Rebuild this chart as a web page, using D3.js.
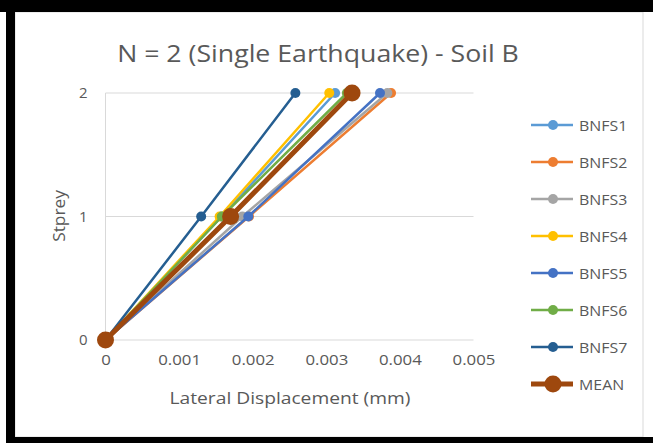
<!DOCTYPE html>
<html>
<head>
<meta charset="utf-8">
<script src="https://cdn.jsdelivr.net/npm/d3@7"></script>
<style>
  html, body { margin: 0; padding: 0; background: #fff; }
  svg { display: block; }
  text { font-family: "Open Sans", Lato, sans-serif; fill: #595959; }
</style>
</head>
<body>
<svg id="chart" width="653" height="443"></svg>
<script>
// Storey levels and lateral displacement (mm) for each record
const storeys = [0, 1, 2];
const seriesNames = ["BNFS1", "BNFS2", "BNFS3", "BNFS4", "BNFS5", "BNFS6", "BNFS7", "MEAN"];
const BNFS1 = [0, 0.00158, 0.00312];
const BNFS2 = [0, 0.00195, 0.00388];
const BNFS3 = [0, 0.00186, 0.00383];
const BNFS4 = [0, 0.00155, 0.00304];
const BNFS5 = [0, 0.00194, 0.00373];
const BNFS6 = [0, 0.00158, 0.00328];
const BNFS7 = [0, 0.00130, 0.00258];
const MEAN  = [0, 0.00170, 0.00335];
const xTicks = [0, 0.001, 0.002, 0.003, 0.004, 0.005];
const yTicks = [0, 1, 2];
const colors = ["#5B9BD5", "#ED7D31", "#A5A5A5", "#FFC000", "#4472C4", "#70AD47", "#255E91", "#9E480E"];

const values = [BNFS1, BNFS2, BNFS3, BNFS4, BNFS5, BNFS6, BNFS7, MEAN];
const series = seriesNames.map((name, i) => ({
  name, color: colors[i], isMean: name === "MEAN",
  points: storeys.map((s, j) => ({ x: values[i][j], y: s }))
}));

const svg = d3.select("#chart");
const FONT = "'Open Sans', Lato, sans-serif";

// widen glyphs horizontally by a factor (the chart's labels are set in a broad face)
function widen(sel, factor) {
  sel.each(function () {
    const w = this.getComputedTextLength();
    d3.select(this).attr("textLength", w * factor).attr("lengthAdjust", "spacingAndGlyphs");
  });
}

// frame
svg.append("rect").attr("x", 15).attr("y", 12).attr("width", 628).attr("height", 425)
  .attr("fill", "#fff").attr("stroke", "#d9d9d9").attr("stroke-width", 1);
svg.append("rect").attr("x", 0).attr("y", 0).attr("width", 653).attr("height", 12).attr("fill", "#000");
svg.append("rect").attr("x", 6).attr("y", 0).attr("width", 9).attr("height", 443).attr("fill", "#000");
svg.append("rect").attr("x", 6).attr("y", 437).attr("width", 647).attr("height", 6).attr("fill", "#000");

const x = d3.scaleLinear().domain([0, 0.005]).range([105.5, 473.5]);
const y = d3.scaleLinear().domain([0, 2]).range([340, 93]);

// horizontal gridlines
svg.append("g").selectAll("line").data(yTicks).join("line")
  .attr("x1", x(0)).attr("x2", x(0.005))
  .attr("y1", d => y(d)).attr("y2", d => y(d))
  .attr("stroke", "#d9d9d9").attr("stroke-width", 1);
// vertical axis line
svg.append("line").attr("x1", x(0)).attr("x2", x(0)).attr("y1", y(2)).attr("y2", y(0))
  .attr("stroke", "#d9d9d9").attr("stroke-width", 1);

// axes (labels only)
const xAxis = svg.append("g").attr("transform", `translate(0,${y(0)})`)
  .call(d3.axisBottom(x).tickValues(xTicks).tickSize(0).tickPadding(14)
    .tickFormat(d => d === 0 ? "0" : d3.format(".3f")(d)));
xAxis.select(".domain").remove();
xAxis.selectAll("text").attr("font-size", 15).attr("fill", "#595959").style("font-family", FONT);
widen(xAxis.selectAll("text"), 1.12);

const yAxis = svg.append("g").attr("transform", `translate(${x(0)},0)`)
  .call(d3.axisLeft(y).tickValues(yTicks).tickSize(0).tickPadding(18).tickFormat(d3.format("d")));
yAxis.select(".domain").remove();
yAxis.selectAll("text").attr("font-size", 15).attr("fill", "#595959").style("font-family", FONT);

// titles
const title = svg.append("text").attr("x", 318).attr("y", 62).attr("text-anchor", "middle")
  .attr("font-size", 23).text("N = 2 (Single Earthquake) - Soil B");
widen(title, 1.16);
const xTitle = svg.append("text").attr("x", 290).attr("y", 404).attr("text-anchor", "middle")
  .attr("font-size", 16).text("Lateral Displacement (mm)");
widen(xTitle, 1.2);
const yTitle = svg.append("text").attr("transform", "translate(65,216) rotate(-90)").attr("text-anchor", "middle")
  .attr("font-size", 16).text("Stprey");
widen(yTitle, 1.08);

// series lines and markers
const line = d3.line().x(d => x(d.x)).y(d => y(d.y));
const plot = svg.append("g");
series.forEach(s => {
  const g = plot.append("g");
  g.append("path").datum(s.points).attr("d", line).attr("fill", "none")
    .attr("stroke", s.color).attr("stroke-width", s.isMean ? 5 : 2.5)
    .attr("stroke-linejoin", "round");
  g.selectAll("circle").data(s.points).join("circle")
    .attr("cx", d => x(d.x)).attr("cy", d => y(d.y))
    .attr("r", s.isMean ? 8.5 : 5).attr("fill", s.color);
});

// legend
const legend = svg.append("g");
series.forEach((s, i) => {
  const ly = 125 + i * 37.0;
  const g = legend.append("g");
  g.append("line").attr("x1", 531).attr("x2", 573).attr("y1", ly).attr("y2", ly)
    .attr("stroke", s.color).attr("stroke-width", s.isMean ? 5 : 2.5);
  g.append("circle").attr("cx", 553).attr("cy", ly).attr("r", s.isMean ? 8.5 : 5).attr("fill", s.color);
  const t = g.append("text").attr("x", 579).attr("y", ly + 5.5).attr("font-size", 15).text(s.name);
  widen(t, 1.06);
});
</script>
</body>
</html>
